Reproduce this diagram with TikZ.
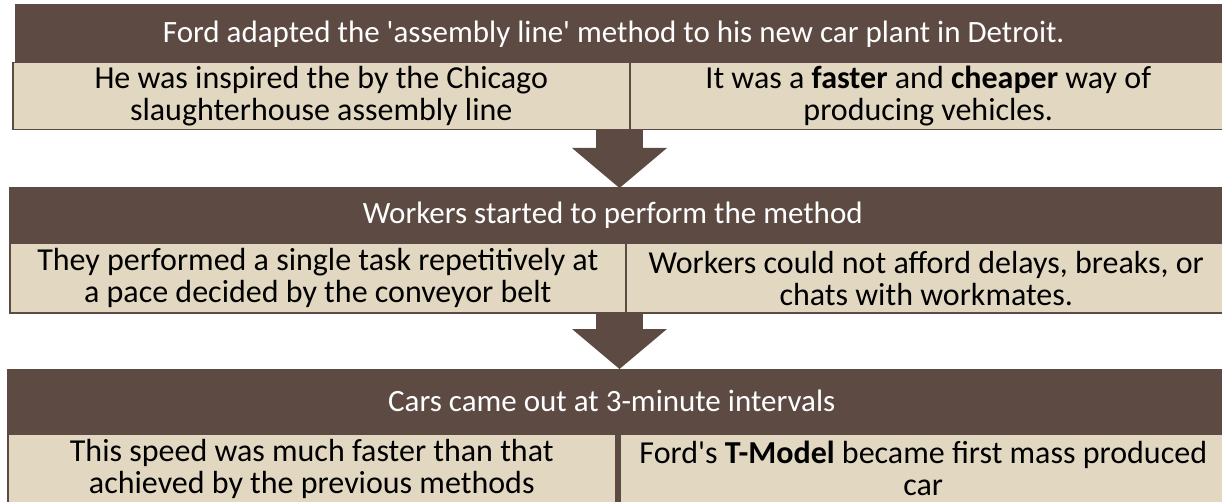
\documentclass[tikz,border=0pt]{standalone}
\usepackage{fontspec}
\setmainfont{Carlito}
\usetikzlibrary{arrows.meta}
\definecolor{bark}{HTML}{5D4B43}
\definecolor{sand}{HTML}{E2D8C1}
\begin{document}
\begin{tikzpicture}[x=1pt,y=-1pt,line join=miter]
	\tikzstyle{head}=[anchor=north west,fill=bark,text=white,inner sep=0pt,font=\fontsize{31}{32}\selectfont]
	\tikzstyle{cell}=[anchor=north west,fill=sand,draw=bark,line width=1.5pt,inner sep=0pt,align=center,font=\fontsize{32}{32}\selectfont]
	\tikzstyle{flow}=[draw=bark,line width=47pt,-{Triangle[width=95pt,length=40pt,line width=0pt]}]
	\useasboundingbox (0,0) rectangle (1222,502);
	\clip (0,0) rectangle (1222,502);
	% the three step headers
	\foreach \n/\x/\y/\w/\h/\t in {hdA/15/4/1197/60/{Ford adapted the \textquotesingle assembly line\textquotesingle\ method to his new car plant in Detroit.}, hdB/9/187/1207/56/{Workers started to perform the method}, hdC/7/369/1209/64/{Cars came out at 3-minute intervals}} {\node[head,minimum width=\w pt,minimum height=\h pt] (\n) at (\x,\y) {\t};}
	% fill out the header bars to the right edge
	\foreach \n in {hdA,hdB,hdC} {\fill[bark] (\n.north east) rectangle ([xshift=20pt]\n.south east);}
	% the detail cells
	\node[cell,minimum width=617pt,minimum height=67pt] (cA1) at (12,62) {He was inspired the by the Chicago\\slaughterhouse assembly line};
	\node[cell,minimum width=597pt,minimum height=67pt] (cA2) at (629,62) {It was a \textbf{faster} and \textbf{cheaper} way of\\producing vehicles.};
	\node[cell,minimum width=616pt,minimum height=69pt] (cB1) at (9,243) {They performed a single task repetitively at\\a pace decided by the conveyor belt};
	\node[cell,minimum width=601pt,minimum height=69pt] (cB2) at (625,243) {Workers could not afford delays, breaks, or\\chats with workmates.};
	\node[cell,minimum width=608pt,minimum height=70pt] (cC1) at (7,433) {This speed was much faster than that\\achieved by the previous methods};
	\node[cell,minimum width=607pt,minimum height=70pt] (cC2) at (619,433) {Ford\textquotesingle s \textbf{T-Model} became first mass produced\\car};
	\fill[bark] (cC1.north east) rectangle ([yshift=-10pt]cC2.south west);
	% big arrows between the steps
	\foreach \a/\b/\y/\z in {fA/tB/129/188, fB/tC/312/369} {\coordinate (\a) at (619.5,\y); \coordinate (\b) at (619.5,\z); \draw[flow] (\a) -- (\b);}
\end{tikzpicture}
\end{document}
